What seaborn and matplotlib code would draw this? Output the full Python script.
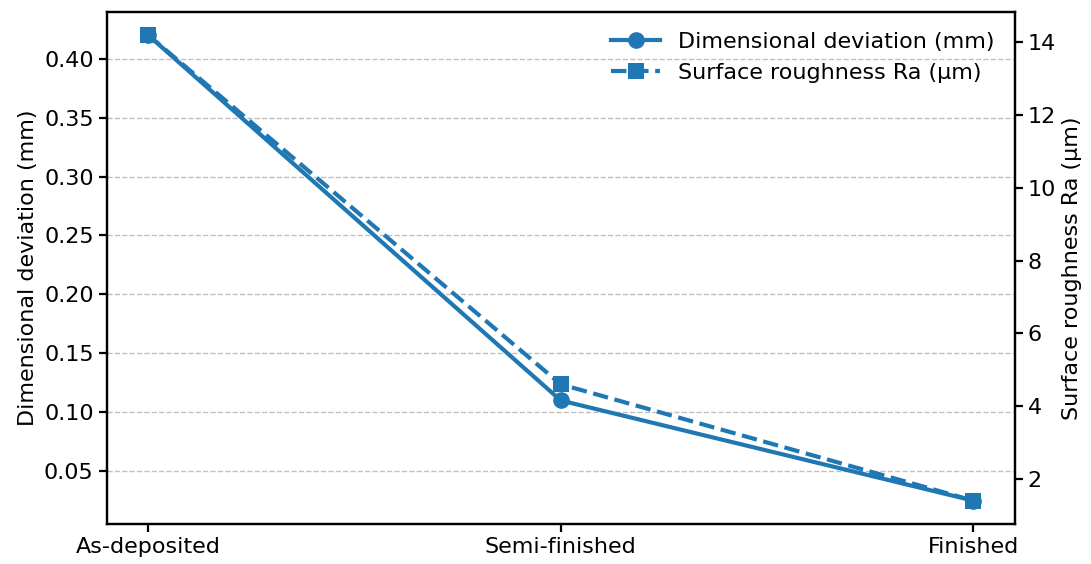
import numpy as np
import matplotlib
matplotlib.use('Agg')
import matplotlib.pyplot as plt
import seaborn as sns
import pandas as pd

# data
stages = ['As-deposited', 'Semi-finished', 'Finished']
deviation_mm = [0.42, 0.11, 0.025]
roughness_ra = [14.2, 4.6, 1.4]

df = pd.DataFrame({'stage': stages, 'deviation': deviation_mm, 'roughness': roughness_ra})

plt.rcParams['font.family'] = ['DejaVu Sans']
plt.rcParams['font.size'] = 16
plt.rcParams['xtick.labelsize'] = 16
plt.rcParams['ytick.labelsize'] = 16
plt.rcParams['axes.linewidth'] = 1.6
plt.rcParams['xtick.major.width'] = 1.6
plt.rcParams['ytick.major.width'] = 1.6
plt.rcParams['xtick.major.size'] = 6
plt.rcParams['ytick.major.size'] = 6

color = '#1f77b4'

fig, ax1 = plt.subplots(figsize=(10.91, 5.64), dpi=100)
fig.subplots_adjust(left=0.098, right=0.930, top=0.979, bottom=0.071)

sns.lineplot(data=df, x='stage', y='deviation', ax=ax1, color=color, marker='o',
             markersize=12, linewidth=3, markeredgewidth=0, label='Dimensional deviation (mm)',
             legend=False, sort=False)
ax1.set_ylabel('Dimensional deviation (mm)')
ax1.set_xlabel('')
ax1.grid(axis='y', linestyle='--', color='#c0c0c0', linewidth=1)
ax1.set_axisbelow(True)

ax2 = ax1.twinx()
sns.lineplot(data=df, x='stage', y='roughness', ax=ax2, color=color, marker='s',
             markersize=12, linewidth=3, linestyle='--', markeredgewidth=0,
             label='Surface roughness Ra (μm)', legend=False, sort=False)
ax2.set_ylabel('Surface roughness Ra (μm)')
ax2.set_yticks([2, 4, 6, 8, 10, 12, 14])

h1, l1 = ax1.get_legend_handles_labels()
h2, l2 = ax2.get_legend_handles_labels()
ax2.legend(h1 + h2, l1 + l2, loc='upper right', frameon=False, fontsize=16,
           handlelength=2.2, borderaxespad=0.5)

fig.savefig('out.png', dpi=100)
